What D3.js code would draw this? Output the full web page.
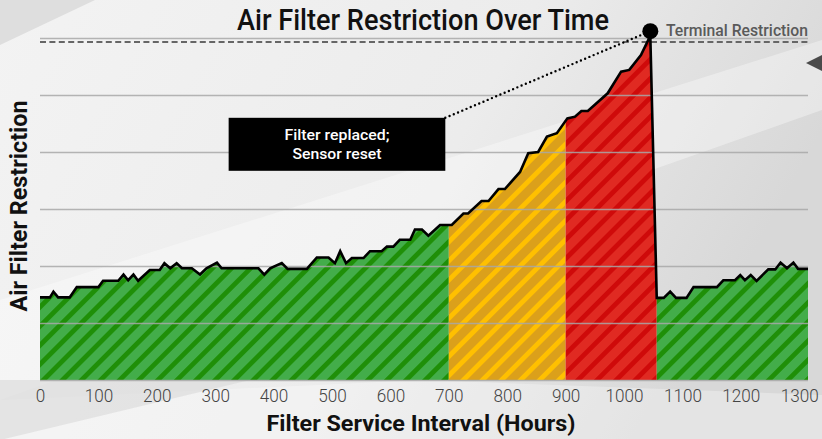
<!DOCTYPE html>
<html lang="en">
<head>
<meta charset="UTF-8">
<title>Air Filter Restriction Over Time</title>
<script src="https://cdn.jsdelivr.net/npm/d3@7"></script>
<style>
  body {margin: 0; background: #ececec;}
  svg {display: block;}
  text {font-family: Roboto, "Liberation Sans", sans-serif;}
</style>
</head>
<body>
<script>
// readings: service hours vs. restriction (arbitrary units, terminal ~60)
const hours = [0, 17, 23, 31, 51, 63, 100, 108, 134, 143, 151, 160, 168, 188, 205, 213, 223, 234, 243,
  260, 274, 285, 303, 311, 374, 384, 394, 414, 424, 457, 474, 494, 505, 514, 524, 534, 554, 565,
  585, 594, 605, 616, 634, 642, 654, 665, 685, 705, 725, 733, 756, 768, 785, 796, 822, 836, 853,
  868, 885, 903, 916, 927, 938, 972, 995, 1009, 1029, 1045, 1056,
  1068, 1079, 1089, 1107, 1119, 1159, 1170, 1190, 1199, 1207, 1217, 1227, 1247, 1259, 1268, 1279,
  1290, 1298, 1315];
const restriction = [14.5, 14.5, 15.5, 14.5, 14.5, 16.3, 16.3, 17.4, 17.4, 18.5, 17.5, 18.5, 17.4, 19.3, 19.3, 20.5, 19.6, 20.5, 19.6,
  19.6, 18.5, 19.6, 20.6, 19.6, 19.6, 18.5, 19.6, 20.5, 19.5, 19.5, 21.5, 21.5, 20.5, 22.6, 20.5, 21.4, 21.4, 22.6,
  22.6, 23.4, 23.4, 24.6, 24.6, 26.4, 26.4, 25.3, 27.2, 27.2, 29.2, 29.2, 31.4, 31.4, 33.5, 33.5, 36.5, 39.8, 40.0,
  42.7, 43.3, 45.9, 46.2, 47.2, 47.2, 50.3, 54.1, 54.4, 57.0, 60.4, 14.4,
  14.4, 15.5, 14.4, 14.4, 16.3, 16.3, 17.5, 17.5, 18.4, 17.5, 18.4, 17.4, 19.4, 19.4, 20.6, 19.6,
  20.6, 19.5, 19.5];

const zoneStart = [0, 700, 900, 1056];
const zoneEnd = [700, 900, 1056, 1315];
const zoneKind = ["green", "yellow", "red", "green"];

const xTicks = d3.range(0, 1301, 100);
const gridValues = [0, 10, 20, 30, 40, 50, 60];
const terminalValue = 59.3;
const peakHour = 1045, markerValue = 61.2;
const callout = {h0: 323, h1: 694, v0: 36.7, v1: 46, lines: ["Filter replaced;", "Sensor reset"]};

const W = 822, H = 439;
const data = hours.map((h, i) => ({h: h, v: restriction[i]}));

const x = d3.scaleLinear().domain([0, 1315]).range([40, 808]);
const y = d3.scaleLinear().domain([0, 60]).range([380, 38]);

const svg = d3.select("body").append("svg").attr("width", W).attr("height", H);
const defs = svg.append("defs");

// background
const bg = defs.append("linearGradient").attr("id", "bg").attr("x1", 0).attr("y1", 0).attr("x2", 1).attr("y2", 0.3);
bg.append("stop").attr("offset", 0).attr("stop-color", "#f3f3f3");
bg.append("stop").attr("offset", 0.6).attr("stop-color", "#ececec");
bg.append("stop").attr("offset", 1).attr("stop-color", "#d8d8d8");
svg.append("rect").attr("width", W).attr("height", H).attr("fill", "url(#bg)");
svg.append("polygon").attr("points", "0,0 95,0 0,45").attr("fill", "#dedede");
svg.append("polygon").attr("points", "0,300 822,40 822,110 0,400").attr("fill", "#fff").attr("opacity", 0.35);
svg.append("polygon").attr("points", "0,400 420,380 822,395 822,439 0,439").attr("fill", "#fff").attr("opacity", 0.3);
svg.append("polygon").attr("points", "0,380 250,380 0,440").attr("fill", "#d8d8d8").attr("opacity", 0.6);
svg.append("polygon").attr("points", "806,63 822,55 822,71").attr("fill", "#4a4a4a");

// stripe patterns
const stripes = {
  green: ["#43ad4a", "#1f8f08"],
  yellow: ["#dba01b", "#ffc000"],
  red: ["#e02a22", "#cf0a0a"]
};
Object.keys(stripes).forEach(k => {
  const p = defs.append("pattern").attr("id", "st-" + k)
    .attr("patternUnits", "userSpaceOnUse")
    .attr("width", 13.5).attr("height", 13.5)
    .attr("patternTransform", "rotate(45)");
  p.append("rect").attr("width", 13.5).attr("height", 13.5).attr("fill", stripes[k][0]);
  p.append("rect").attr("width", 4.8).attr("height", 13.5).attr("fill", stripes[k][1]);
});

// terminal restriction line
svg.append("line").attr("x1", x(0)).attr("x2", x(1315))
  .attr("y1", y(terminalValue)).attr("y2", y(terminalValue))
  .attr("stroke", "#666").attr("stroke-width", 2.2).attr("stroke-dasharray", "6,3.4");

// zone areas
const area = d3.area().x(d => x(d.h)).y0(y(0)).y1(d => y(d.v));
zoneStart.forEach((s, i) => {
  defs.append("clipPath").attr("id", "zone" + i)
    .append("rect").attr("x", x(s)).attr("y", 0)
    .attr("width", x(zoneEnd[i]) - x(s)).attr("height", y(0));
  svg.append("path").datum(data)
    .attr("d", area)
    .attr("clip-path", `url(#zone${i})`)
    .attr("fill", `url(#st-${zoneKind[i]})`);
});

// gridlines
svg.append("g").attr("class", "grid")
  .attr("transform", `translate(${x(0)},0)`)
  .call(d3.axisLeft(y).tickValues(gridValues).tickSize(-(x(1315) - x(0))).tickFormat(""))
  .call(g => g.select(".domain").remove())
  .call(g => g.selectAll("line").attr("stroke", "#a8a8a8").attr("stroke-width", 1.6).attr("opacity", 0.85));

// restriction line
svg.append("path").datum(data)
  .attr("d", d3.line().x(d => x(d.h)).y(d => y(d.v)))
  .attr("fill", "none").attr("stroke", "#000").attr("stroke-width", 2.6)
  .attr("stroke-linejoin", "miter");

// callout
svg.append("line")
  .attr("x1", x(callout.h1)).attr("y1", y(callout.v1))
  .attr("x2", x(peakHour)).attr("y2", y(markerValue))
  .attr("stroke", "#000").attr("stroke-width", 2.4)
  .attr("stroke-linecap", "round").attr("stroke-dasharray", "0,4.6");
svg.append("circle").attr("cx", x(peakHour)).attr("cy", y(markerValue)).attr("r", 8).attr("fill", "#000");

svg.append("rect").attr("x", x(callout.h0)).attr("y", y(callout.v1))
  .attr("width", x(callout.h1) - x(callout.h0)).attr("height", y(callout.v0) - y(callout.v1))
  .attr("fill", "#000");
svg.selectAll("text.callout").data(callout.lines).enter().append("text")
  .attr("class", "callout")
  .attr("x", (x(callout.h0) + x(callout.h1)) / 2)
  .attr("y", (d, i) => 139.5 + i * 19)
  .attr("text-anchor", "middle").attr("fill", "#fff")
  .attr("font-size", 15).attr("font-weight", 500)
  .attr("textLength", (d, i) => i ? 89 : 105).attr("lengthAdjust", "spacingAndGlyphs")
  .text(d => d);

// x axis
svg.append("g").attr("transform", `translate(0,${y(0)})`)
  .call(d3.axisBottom(x).tickValues(xTicks).tickFormat(d3.format("d")).tickSize(0).tickPadding(9))
  .call(g => g.select(".domain").remove())
  .call(g => g.selectAll("text")
    .attr("font-family", "Roboto, sans-serif").attr("font-size", 19).attr("font-weight", 300)
    .attr("fill", "#444")
    .attr("textLength", d => String(d).length * 9.5).attr("lengthAdjust", "spacingAndGlyphs"));

// titles
svg.append("text").attr("x", 423).attr("y", 30).attr("text-anchor", "middle")
  .attr("font-size", 30).attr("font-weight", 500).attr("fill", "#111")
  .attr("textLength", 372).attr("lengthAdjust", "spacingAndGlyphs")
  .text("Air Filter Restriction Over Time");

svg.append("text").attr("x", 737).attr("y", 35.5).attr("text-anchor", "middle")
  .attr("font-size", 17).attr("font-weight", 500).attr("fill", "#5a5a5a")
  .attr("textLength", 142).attr("lengthAdjust", "spacingAndGlyphs")
  .text("Terminal Restriction");

svg.append("text").attr("x", 421).attr("y", 431).attr("text-anchor", "middle")
  .attr("font-size", 22).attr("font-weight", 700).attr("fill", "#111")
  .attr("textLength", 309).attr("lengthAdjust", "spacingAndGlyphs")
  .text("Filter Service Interval (Hours)");

svg.append("text").attr("transform", "translate(27,206) rotate(-90)").attr("text-anchor", "middle")
  .attr("font-size", 23).attr("font-weight", 700).attr("fill", "#111")
  .attr("textLength", 211).attr("lengthAdjust", "spacingAndGlyphs")
  .text("Air Filter Restriction");
</script>
</body>
</html>
